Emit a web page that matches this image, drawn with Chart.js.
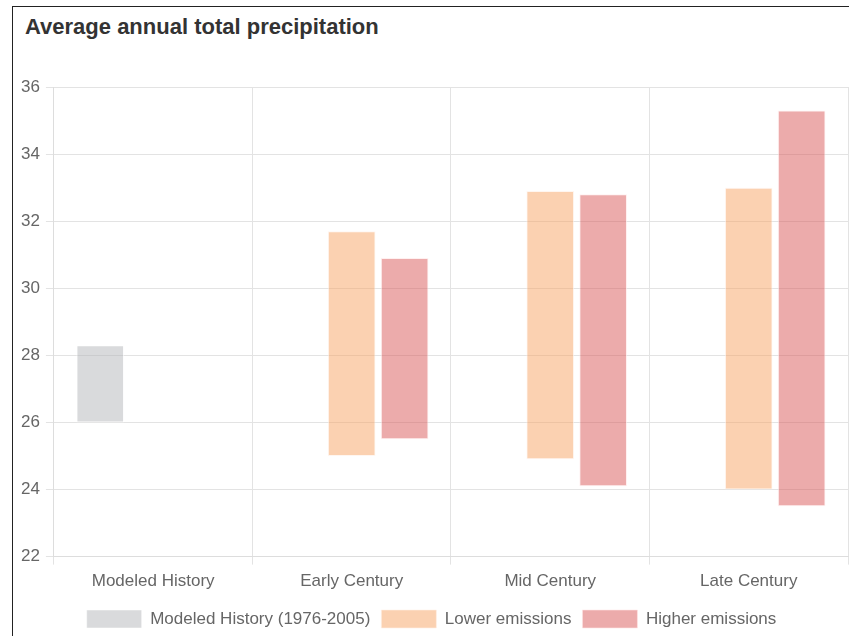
<!DOCTYPE html>
<html>
<head>
<meta charset="utf-8">
<title>Average annual total precipitation</title>
<script src="https://cdn.jsdelivr.net/npm/chart.js@4.4.1/dist/chart.umd.min.js"></script>
<style>
    html, body { margin: 0; padding: 0; background: #fff; overflow: hidden; }
    .card {
        position: absolute;
        left: 12px;
        top: 6px;
        width: 900px;
        height: 700px;
        border: 1px solid #222;
        background: #fff;
    }
    .card h3 {
        margin: 0;
        position: absolute;
        left: 12px;
        top: 7px;
        font-family: "Liberation Sans", Arial, sans-serif;
        font-size: 22px;
        font-weight: bold;
        color: #333;
    }
    .chart-box {
        position: absolute;
        left: 0;
        top: 60px;
        width: 856px;
        height: 576px;
    }
</style>
</head>
<body>
<div class="card">
    <h3>Average annual total precipitation</h3>
    <div class="chart-box"><canvas id="precipChart"></canvas></div>
</div>

<script>
const periods = ["Modeled History", "Early Century", "Mid Century", "Late Century"];

// each value is a [low, high] range in inches
const historyRange = [[26.0, 28.3], null, null, null];
const lowerRange   = [null, [25.0, 31.7], [24.9, 32.9], [24.0, 33.0]];
const higherRange  = [null, [25.5, 30.9], [24.1, 32.8], [23.5, 35.3]];

const yTicks = [22, 24, 26, 28, 30, 32, 34, 36];

Chart.defaults.font.family = "'Liberation Sans', Arial, sans-serif";
Chart.defaults.font.size = 17;
Chart.defaults.color = "#666";

const ctx = document.getElementById("precipChart").getContext("2d");
const precipChart = new Chart(ctx, {
    type: "bar",
    data: {
        labels: periods,
        datasets: [{
            label: "Modeled History (1976-2005)",
            data: historyRange,
            backgroundColor: "rgba(180, 182, 186, 0.5)",
            borderColor: "rgba(255, 255, 255, 0.5)",
            borderWidth: 1,
            borderSkipped: false
        }, {
            label: "Lower emissions",
            data: lowerRange,
            backgroundColor: "rgba(247, 164, 100, 0.5)",
            borderColor: "rgba(255, 240, 230, 0.6)",
            borderWidth: 1,
            borderSkipped: false
        }, {
            label: "Higher emissions",
            data: higherRange,
            backgroundColor: "rgba(218, 88, 88, 0.5)",
            borderColor: "rgba(255, 230, 230, 0.6)",
            borderWidth: 1,
            borderSkipped: false
        }]
    },
    options: {
        responsive: true,
        maintainAspectRatio: false,
        animation: false,
        layout: { padding: { left: 2, right: 21, top: 20, bottom: 5 } },
        plugins: {
            legend: {
                position: "bottom",
                labels: {
                    boxWidth: 55,
                    boxHeight: 18,
                    padding: 11
                }
            },
            tooltip: { enabled: false }
        },
        scales: {
            y: {
                min: 22,
                max: 36,
                afterBuildTicks: axis => { axis.ticks = yTicks.map(v => ({ value: v })); },
                ticks: { padding: 6 },
                grid: { color: "#e3e3e3" },
                border: { color: "#ddd" }
            },
            x: {
                ticks: { padding: 7 },
                grid: { color: "#e3e3e3", offset: true },
                border: { color: "#ddd" }
            }
        }
    }
});
</script>
</body>
</html>
